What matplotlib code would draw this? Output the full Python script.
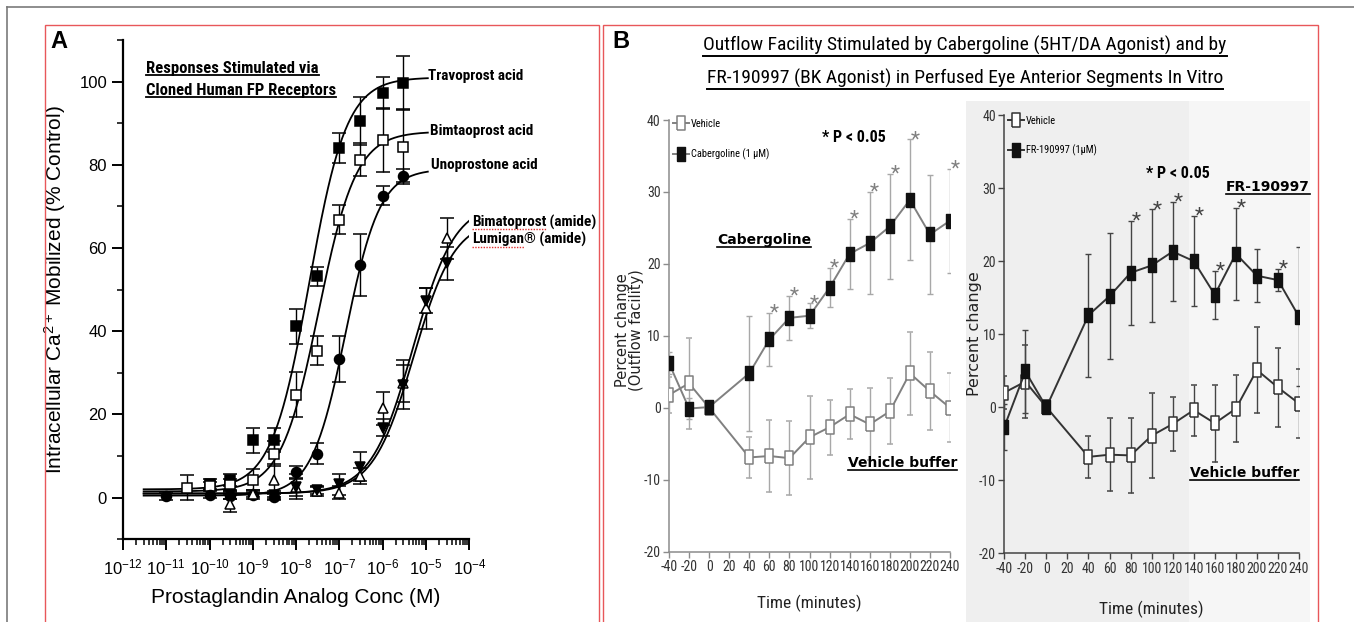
import numpy as np
import matplotlib

matplotlib.use("Agg")
import matplotlib.pyplot as plt
from matplotlib import font_manager
from matplotlib.font_manager import FontProperties
from matplotlib.lines import Line2D
from matplotlib.patches import Rectangle
from matplotlib.ticker import FixedLocator, LogLocator, MultipleLocator, NullFormatter

W, H = 1354, 622

# ---- panel A: Ca2+ mobilised vs concentration ----
trav_conc = [1e-10, 3e-10, 1e-9, 3e-9, 1e-8, 3e-8, 1e-7, 3e-7, 1e-6, 3e-6]
trav_resp = [3.2, 4.2, 13.8, 13.8, 41.2, 53.2, 84.1, 90.6, 97.3, 99.7]
trav_err = [1.2, 1.5, 3.0, 2.9, 4.2, 2.3, 3.6, 5.8, 3.8, 6.5]

bima_conc = [3e-11, 1e-10, 3e-10, 1e-9, 3e-9, 1e-8, 3e-8, 1e-7, 3e-7, 1e-6, 3e-6]
bima_resp = [2.4, 2.8, 3.0, 4.3, 10.6, 24.8, 35.3, 66.8, 81.2, 86.0, 84.4]
bima_err = [3.0, 1.0, 1.5, 2.5, 3.0, 5.5, 3.5, 3.5, 4.0, 7.7, 9.0]

uno_conc = [1e-11, 1e-10, 3e-10, 1e-9, 3e-9, 1e-8, 3e-8, 1e-7, 3e-7, 1e-6, 3e-6]
uno_resp = [0.3, 0.7, 0.5, 0.7, 0.2, 6.2, 10.6, 33.3, 55.9, 72.6, 77.4]
uno_err = [0.8, 0.8, 0.8, 0.6, 0.8, 1.5, 2.5, 5.5, 7.5, 2.2, 1.5]

amide_conc = [3e-10, 1e-9, 3e-9, 1e-8, 3e-8, 1e-7, 3e-7, 1e-6, 3e-6, 1e-5, 3e-5]
amide_resp = [-1.4, 0.8, 4.2, 2.5, 1.5, 1.2, 5.2, 21.5, 27.5, 45.5, 62.3]
amide_err = [2.0, 1.0, 4.0, 2.0, 1.0, 1.5, 2.0, 4.0, 4.5, 5.0, 5.0]

lumi_conc = [3e-10, 3e-9, 1e-8, 3e-8, 1e-7, 3e-7, 1e-6, 3e-6, 1e-5, 3e-5]
lumi_resp = [0.8, 0.6, 2.6, 1.8, 3.2, 7.4, 16.8, 27.2, 47.3, 56.3]
lumi_err = [1.0, 1.0, 3.0, 1.0, 2.5, 3.5, 2.0, 6.0, 3.0, 4.0]

# fitted sigmoid curves: bottom, top, EC50, Hill slope, last concentration drawn
fit_bottom = [2.0, 1.5, 0.5, 1.0, 1.0]
fit_top = [101.0, 88.0, 79.0, 71.0, 67.0]
fit_ec50 = [2.0e-8, 3.3e-8, 1.4e-7, 5.0e-6, 5.2e-6]
fit_slope = [1.0, 1.0, 1.1, 0.9, 0.92]
fit_end = [1.1e-5, 1.1e-5, 1.1e-5, 1.0e-4, 1.0e-4]

# ---- panel B: outflow facility, % change vs time ----
time_min = [-40, -20, 0, 40, 60, 80, 100, 120, 140, 160, 180, 200, 220, 240]
veh1 = [1.8, 3.4, 0.0, -6.9, -6.7, -7.0, -4.1, -2.7, -0.9, -2.3, -0.5, 4.8, 2.3, 0.0]
veh1_err = [2.5, 6.3, 0.0, 2.9, 5.0, 5.1, 5.8, 3.8, 3.5, 5.0, 4.6, 5.8, 5.4, 4.8]
cab = [6.2, -0.1, 0.1, 4.8, 9.5, 12.5, 12.8, 16.7, 21.4, 22.9, 25.2, 28.9, 24.1, 26.0]
cab_err = [1.5, 1.5, 0.0, 8.0, 3.7, 3.1, 1.7, 2.7, 4.9, 7.1, 7.3, 8.4, 8.3, 7.2]
cab_sig = [60, 80, 100, 120, 140, 160, 180, 200, 240]

veh2 = [2.0, 3.5, 0.0, -6.8, -6.5, -6.6, -3.9, -2.3, -0.4, -2.2, -0.2, 5.1, 2.7, 0.5]
veh2_err = [2.3, 5.0, 0.0, 2.9, 5.0, 5.1, 5.85, 3.7, 3.5, 5.3, 4.6, 5.9, 5.45, 4.7]
fr = [-2.7, 4.9, 0.0, 12.6, 15.2, 18.4, 19.4, 21.3, 20.0, 15.4, 21.0, 18.0, 17.4, 12.4]
fr_err = [3.2, 5.7, 0.0, 8.4, 8.6, 7.1, 7.7, 6.8, 6.2, 3.3, 6.3, 3.6, 1.5, 9.5]
fr_sig = [80, 100, 120, 140, 160, 180, 220]

ttf = font_manager.fontManager.ttflist
names = {f.name for f in ttf}
ARIAL = "Liberation Sans"


def pick_narrow():
    for n in ["Liberation Sans Narrow", "Roboto Condensed", "Open Sans Condensed", "Arial Narrow"]:
        if n in names:
            return {"family": [n, "DejaVu Sans"]}, 1.0
    for n in ["DejaVu Sans", "Noto Sans", "Open Sans", "Roboto", "Inter"]:
        if any(f.name == n and str(f.stretch) in ("condensed", "semi-condensed", "extra-condensed")
               for f in ttf):
            return {"family": [n], "stretch": "condensed"}, 0.95
    return {"family": [ARIAL, "DejaVu Sans"]}, 0.85


NARROW_KW, NSCALE = pick_narrow()

plt.rcParams.update(
    {
        "font.family": [ARIAL, "DejaVu Sans"],
        "mathtext.fontset": "custom",
        "mathtext.rm": ARIAL,
        "mathtext.it": ARIAL,
        "mathtext.bf": ARIAL + ":bold",
        "axes.facecolor": "none",
        "axes.unicode_minus": False,
    }
)

fig = plt.figure(figsize=(W / 100, H / 100), dpi=100)


def px_axes(x0, y0, x1, y1):
    return fig.add_axes([x0 / W, 1 - y1 / H, (x1 - x0) / W, (y1 - y0) / H])


def ftext(x, y, s, **kw):
    return fig.text(x / W, 1 - y / H, s, **kw)


def ntext(x, y, s, size, **kw):
    return ftext(x, y, s, fontsize=size * NSCALE, **NARROW_KW, **kw)


def fline(xs, ys, **kw):
    fig.add_artist(Line2D([x / W for x in xs], [1 - y / H for y in ys], transform=fig.transFigure, **kw))


# frames
fline([7, 1354], [7, 7], color="#7a7a7a", lw=1.2)
fline([7, 7], [7, 622], color="#7a7a7a", lw=1.2)
for x0, x1 in [(45, 599), (603, 1318)]:
    fig.add_artist(
        Rectangle((x0 / W, -0.01), (x1 - x0) / W, 1.01 - 25 / H, transform=fig.transFigure,
                  fill=False, edgecolor="#e8575a", lw=1.0)
    )
# pasted grey background behind the right-hand graph
fig.add_artist(Rectangle((966 / W, 0), (1189 - 966) / W, 1 - 101 / H, transform=fig.transFigure,
                         facecolor="#efefef", edgecolor="none", zorder=-5))
fig.add_artist(Rectangle((1189 / W, 0), (1310 - 1189) / W, 1 - 101 / H, transform=fig.transFigure,
                         facecolor="#f6f6f6", edgecolor="none", zorder=-5))

# ================= panel A =================
ax = px_axes(123, 40, 469.3, 539.3)
ax.set_xscale("log")
ax.set_xlim(1e-12, 1e-4)
ax.set_ylim(-10, 110)
for s in ["top", "right"]:
    ax.spines[s].set_visible(False)
for s in ["left", "bottom"]:
    ax.spines[s].set_linewidth(1.6)

series = [
    (trav_conc, trav_resp, trav_err, "s", "black"),
    (bima_conc, bima_resp, bima_err, "s", "white"),
    (uno_conc, uno_resp, uno_err, "o", "black"),
    (amide_conc, amide_resp, amide_err, "^", "white"),
    (lumi_conc, lumi_resp, lumi_err, "v", "black"),
]
for xs, ys, es, mk, fc in series:
    ax.errorbar(xs, ys, yerr=es, fmt=mk, ms=7.2, mfc=fc, mec="black", mew=1.1,
                ecolor="black", elinewidth=1.0, capsize=4.8, capthick=1.5, zorder=3)

for b, t, ec, n, xe in zip(fit_bottom, fit_top, fit_ec50, fit_slope, fit_end):
    xx = np.logspace(np.log10(3e-12), np.log10(xe), 300)
    ax.plot(xx, b + (t - b) / (1 + (ec / xx) ** n), color="black", lw=1.3, zorder=2)

ax.xaxis.set_major_locator(FixedLocator([10.0 ** k for k in range(-12, -3)]))
ax.set_xticklabels(["10$^{%d}$" % k for k in range(-12, -3)])
ax.xaxis.set_minor_locator(LogLocator(base=10, subs=np.arange(2, 10), numticks=20))
ax.xaxis.set_minor_formatter(NullFormatter())
ax.yaxis.set_major_locator(FixedLocator([0, 20, 40, 60, 80, 100]))
ax.yaxis.set_minor_locator(MultipleLocator(10))
ax.tick_params(which="major", length=8, width=1.4, labelsize=12, direction="out")
ax.tick_params(which="minor", length=4, width=1.1, direction="out")
ax.tick_params(axis="x", which="major", pad=5, labelsize=12)
ax.set_xlabel("Prostaglandin Analog Conc (M)", fontsize=15, labelpad=8)
ax.set_ylabel("Intracellular Ca$^{2+}$ Mobilized (% Control)", fontsize=15, labelpad=8)

ftext(50, 42, "A", fontsize=17, fontweight="bold", va="center", ha="left")

renderer = fig.canvas.get_renderer()


def underline(txt, color="black", lw=1.1, pad=0.5, ls="-"):
    bb = txt.get_window_extent(renderer)
    y = H - (bb.y0 + pad)
    fline([bb.x0, bb.x1], [y, y], color=color, lw=lw, ls=ls)


lab_kw = dict(fontweight="bold", va="center", ha="left")
for y, s in [(68, "Responses Stimulated via"), (90, "Cloned Human FP Receptors")]:
    t = ntext(146, y, s, 12, **lab_kw)
    underline(t, lw=1.3)

ntext(428, 76, "Travoprost acid", 11, **lab_kw)
ntext(430, 131, "Bimtaoprost acid", 11, **lab_kw)
ntext(431, 165, "Unoprostone acid", 11, **lab_kw)
for y, word, rest in [(222, "Bimatoprost", " (amide)"), (239, "Lumigan", "® (amide)")]:
    t = ntext(472, y, word, 11, **lab_kw)
    bb = t.get_window_extent(renderer)
    ntext(bb.x1, y, rest, 11, **lab_kw)
    underline(t, color="#e03030", lw=1.0, pad=-0.5, ls=(0, (1, 1)))

# ================= panel B =================
ftext(612, 41, "B", fontsize=17, fontweight="bold", va="center", ha="left")
for y, s in [(45, "Outflow Facility Stimulated by Cabergoline (5HT/DA Agonist) and by"),
             (78, "FR-190997 (BK Agonist) in Perfused Eye Anterior Segments In Vitro")]:
    t = ntext(965, y, s, 14, va="center", ha="center")
    underline(t, lw=1.4, pad=-1)

rect_marker = [(-0.32, -0.5), (0.32, -0.5), (0.32, 0.5), (-0.32, 0.5), (-0.32, -0.5)]


def time_panel(box, veh, veh_e, drug, drug_e, sig, drug_label, line_col, err_col, axis_col, star_col,
               xlab_pad, legend_y):
    axb = px_axes(*box)
    axb.set_xlim(-40, 240)
    axb.set_ylim(-20, 40)
    for s in ["top", "right"]:
        axb.spines[s].set_visible(False)
    for s in ["left", "bottom"]:
        axb.spines[s].set_color(axis_col)
        axb.spines[s].set_linewidth(1.1)
    h_v = axb.errorbar(time_min, veh, yerr=veh_e, fmt="-", marker=rect_marker, ms=9.5, mfc="white",
                       mec=line_col, mew=1.1, color=line_col, lw=1.4, ecolor=err_col,
                       elinewidth=1.0, capsize=2.4, capthick=1.0, zorder=3)
    h_d = axb.errorbar(time_min, drug, yerr=drug_e, fmt="-", marker=rect_marker, ms=9.5, mfc="#111111",
                       mec="#111111", mew=1.0, color=line_col, lw=1.4, ecolor=err_col,
                       elinewidth=1.0, capsize=2.4, capthick=1.0, zorder=4)
    top_of_bar = {t: v + e for t, v, e in zip(time_min, drug, drug_e)}
    for t in sig:
        axb.text(t + 5, top_of_bar[t] - 0.8, "*", fontsize=15 * NSCALE, color=star_col, ha="center",
                 va="baseline", **NARROW_KW)
    axb.xaxis.set_major_locator(FixedLocator(list(range(-40, 241, 20))))
    axb.yaxis.set_major_locator(FixedLocator(list(range(-20, 41, 10))))
    axb.tick_params(length=4, width=1.0, color=axis_col, labelsize=10 * NSCALE, labelcolor="#333333", pad=2)
    for lab in axb.get_xticklabels() + axb.get_yticklabels():
        lab.set_family(NARROW_KW["family"])
        if "stretch" in NARROW_KW:
            lab.set_fontstretch(NARROW_KW["stretch"])
    axb.set_xlabel("Time (minutes)", fontsize=12.5 * NSCALE, labelpad=xlab_pad, color="#222222", **NARROW_KW)
    axb.legend(handles=[h_v[0], h_d[0]], labels=["Vehicle", drug_label], loc="upper left",
               bbox_to_anchor=(0.0, legend_y), frameon=False, handlelength=1.5, handletextpad=0.2,
               labelspacing=1.85, borderaxespad=0.0,
               prop=FontProperties(size=7.5 * NSCALE, **NARROW_KW))
    return axb


b1 = time_panel((669, 120, 950, 551.7), veh1, veh1_err, cab, cab_err, cab_sig,
                "Cabergoline (1 \u03bcM)", "#808080", "#a8a8a8", "#8c8c8c", "#808080", 15, 1.012)
b2 = time_panel((1004.3, 115, 1299, 553.3), veh2, veh2_err, fr, fr_err, fr_sig,
                "FR-190997 (1\u03bcM)", "#333333", "#444444", "#444444", "#444444", 18, 1.008)

ylab_kw = dict(fontsize=10.5, rotation=90, va="center", ha="center", family="DejaVu Sans", color="#222222")
ftext(622, 330, "Percent change", **ylab_kw)
ftext(637, 330, "(Outflow facility)", **ylab_kw)
ftext(974, 334, "Percent change", **{**ylab_kw, "fontsize": 11.5})

bold_kw = dict(fontsize=10, fontweight="bold", family="DejaVu Sans", va="center", ha="left")
underline(ftext(717, 240, "Cabergoline", **bold_kw), lw=1.2)
underline(ftext(848, 463, "Vehicle buffer", **bold_kw), lw=1.2)
underline(ftext(1226, 187, "FR-190997", **bold_kw), lw=1.2)
underline(ftext(1190, 473, "Vehicle buffer", **bold_kw), lw=1.2)

ntext(854, 137, "* P < 0.05", 11.5, fontweight="bold", va="center", ha="center")
ntext(1178, 173, "* P < 0.05", 11.5, fontweight="bold", va="center", ha="center")

fig.savefig("out.png", dpi=100)
